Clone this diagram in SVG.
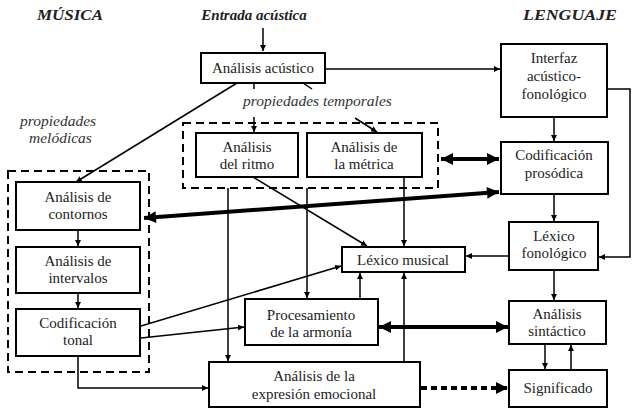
<svg xmlns="http://www.w3.org/2000/svg" width="632" height="409" viewBox="0 0 632 409">
<defs>
<marker id="a" viewBox="0 0 10 10" refX="10" refY="5" markerWidth="6" markerHeight="6" markerUnits="userSpaceOnUse" orient="auto-start-reverse"><path d="M0,0 L10,5 L0,10 z" fill="#000"/></marker>
<marker id="b" viewBox="0 0 10 10" refX="10" refY="5" markerWidth="15" markerHeight="12" markerUnits="userSpaceOnUse" orient="auto-start-reverse"><path d="M0,0 L10,5 L0,10 z" fill="#000"/></marker>
</defs>
<style>
.box{fill:#fff;stroke:#000;stroke-width:2}
.dash{fill:none;stroke:#000;stroke-width:2;stroke-dasharray:8 5}
.t{font-family:"Liberation Serif","Times New Roman",serif;font-size:15px;fill:#222;text-anchor:middle}
.it{font-family:"Liberation Serif","Times New Roman",serif;font-style:italic;font-size:15.5px;fill:#333}
.h{font-family:"Liberation Serif","Times New Roman",serif;font-style:italic;font-weight:bold;font-size:15px;fill:#222;text-anchor:middle}
.c{fill:none;stroke:#000;stroke-width:1.5}
.k{fill:none;stroke:#000;stroke-width:4}
</style>
<rect width="632" height="409" fill="#fff"/>
<text class="h" x="70" y="20" font-size="16" font-weight="normal" textLength="66" lengthAdjust="spacingAndGlyphs">MÚSICA</text>
<text class="h" x="570" y="20" font-size="16" font-weight="normal" textLength="94" lengthAdjust="spacingAndGlyphs">LENGUAJE</text>
<text class="h" x="254" y="20">Entrada acústica</text>
<text class="it" x="20" y="126">propiedades</text>
<text class="it" x="29" y="143">melódicas</text>
<text class="it" x="243" y="106">propiedades temporales</text>
<rect class="dash" x="183" y="123" width="255" height="65"/>
<rect class="dash" x="8" y="171" width="141" height="201"/>
<g id="connectors">
<path class="c" d="M263,28 V51" marker-end="url(#a)"/>
<path class="c" d="M325,69 H500" marker-end="url(#a)"/>
<path class="c" d="M254,83 V89"/>
<path class="c" d="M254,117 V132" marker-end="url(#a)"/>
<path class="c" d="M303,83 L312,89"/>
<path class="c" d="M355,118 L377,132" marker-end="url(#a)"/>
<path class="c" d="M237,83 L76,182" marker-end="url(#a)"/>
<path class="c" d="M78,230 V246" marker-end="url(#a)"/>
<path class="c" d="M78,293 V308" marker-end="url(#a)"/>
<path class="c" d="M78,356 V388 H208" marker-end="url(#a)"/>
<path class="c" d="M141,326 L341,266" marker-end="url(#a)"/>
<path class="c" d="M141,338 L244,327" marker-end="url(#a)"/>
<path class="c" d="M253,177 L367,246" marker-end="url(#a)"/>
<path class="c" d="M228,188 V361" marker-end="url(#a)"/>
<path class="c" d="M307,188 V298" marker-end="url(#a)"/>
<path class="c" d="M404,177 V246" marker-end="url(#a)"/>
<path class="c" d="M360,299 V273" marker-end="url(#a)"/>
<path class="c" d="M404,362 V273" marker-end="url(#a)"/>
<path class="c" d="M509,256 H466" marker-end="url(#a)"/>
<path class="c" d="M554,117 V141" marker-end="url(#a)"/>
<path class="c" d="M554,194 V221" marker-end="url(#a)"/>
<path class="c" d="M554,270 V300" marker-end="url(#a)"/>
<path class="c" d="M607,89 H630 V257 H599" marker-end="url(#a)"/>
<path class="c" d="M545,344 V369" marker-end="url(#a)"/>
<path class="c" d="M571,370 V345" marker-end="url(#a)"/>
<path class="k" d="M144,218 L499,192" marker-start="url(#b)" marker-end="url(#b)"/>
<path class="k" d="M441,159 H499" marker-start="url(#b)" marker-end="url(#b)"/>
<path class="k" d="M379,327 H508" marker-start="url(#b)" marker-end="url(#b)"/>
<path class="k" d="M421,388 H508" stroke-dasharray="6 4" marker-end="url(#b)"/>
</g>
<g id="n-acustico"><rect class="box" x="201" y="53" width="124" height="30"/><text class="t" x="263" y="73">Análisis acústico</text></g>
<g id="n-interfaz"><rect class="box" x="501" y="44" width="106" height="73"/><text class="t" x="554" y="63">Interfaz</text><text class="t" x="554" y="81">acústico-</text><text class="t" x="554" y="99">fonológico</text></g>
<g id="n-prosodica"><rect class="box" x="501" y="142" width="107" height="52"/><text class="t" x="554" y="160">Codificación</text><text class="t" x="554" y="178">prosódica</text></g>
<g id="n-lexfon"><rect class="box" x="509" y="222" width="89" height="48"/><text class="t" x="554" y="241">Léxico</text><text class="t" x="554" y="258">fonológico</text></g>
<g id="n-sintactico"><rect class="box" x="509" y="301" width="97" height="43"/><text class="t" x="557" y="319">Análisis</text><text class="t" x="557" y="336">sintáctico</text></g>
<g id="n-significado"><rect class="box" x="509" y="370" width="98" height="37"/><text class="t" x="558" y="393">Significado</text></g>
<g id="n-ritmo"><rect class="box" x="196" y="133" width="102" height="44"/><text class="t" x="247" y="152">Análisis</text><text class="t" x="247" y="169">del ritmo</text></g>
<g id="n-metrica"><rect class="box" x="307" y="133" width="115" height="44"/><text class="t" x="364" y="152">Análisis de</text><text class="t" x="364" y="169">la métrica</text></g>
<g id="n-lexmus"><rect class="box" x="342" y="247" width="123" height="25"/><text class="t" x="403" y="265">Léxico musical</text></g>
<g id="n-armonia"><rect class="box" x="245" y="299" width="133" height="46"/><text class="t" x="311" y="320">Procesamiento</text><text class="t" x="311" y="337">de la armonía</text></g>
<g id="n-emocional"><rect class="box" x="209" y="362" width="211" height="45"/><text class="t" x="314" y="381">Análisis de la</text><text class="t" x="314" y="399">expresión emocional</text></g>
<g id="n-contornos"><rect class="box" x="16" y="182" width="124" height="48"/><text class="t" x="78" y="202">Análisis de</text><text class="t" x="78" y="219">contornos</text></g>
<g id="n-intervalos"><rect class="box" x="16" y="247" width="124" height="46"/><text class="t" x="78" y="266">Análisis de</text><text class="t" x="78" y="283">intervalos</text></g>
<g id="n-tonal"><rect class="box" x="16" y="309" width="124" height="47"/><text class="t" x="78" y="328">Codificación</text><text class="t" x="78" y="345">tonal</text></g>
</svg>
